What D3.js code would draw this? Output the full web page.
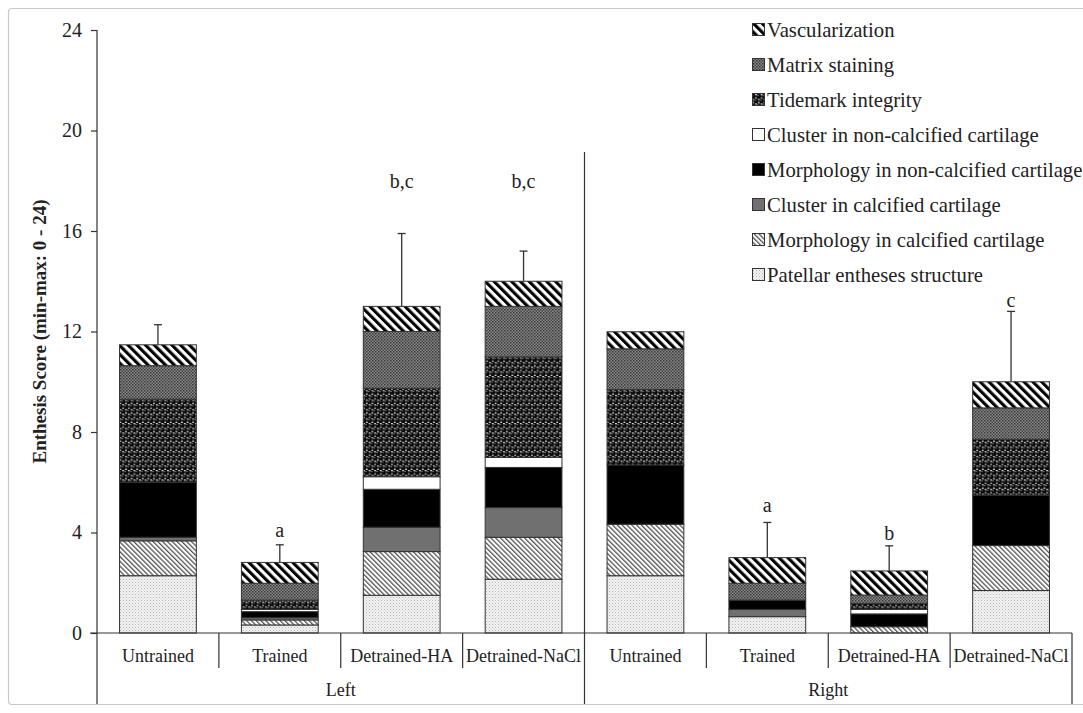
<!DOCTYPE html>
<html>
<head>
<meta charset="utf-8">
<script src="https://cdn.jsdelivr.net/npm/d3@7/dist/d3.min.js"></script>
<style>
  html, body { margin: 0; padding: 0; background: #fff; }
  svg { display: block; }
  text { font-family: "Liberation Serif", "Times New Roman", serif; fill: #222; }
</style>
</head>
<body>
<svg id="chart" width="1083" height="713"></svg>
<script>
// ---------------- data ----------------
const groups = ["Left", "Right"];
const categories = ["Untrained", "Trained", "Detrained-HA", "Detrained-NaCl"];
const yTicks = [0, 4, 8, 12, 16, 20, 24];
const seriesNames = [
  "Patellar entheses structure",
  "Morphology in calcified cartilage",
  "Cluster in calcified cartilage",
  "Morphology in non-calcified cartilage",
  "Cluster in non-calcified cartilage",
  "Tidemark integrity",
  "Matrix staining",
  "Vascularization"
];
// order of values: Left U, T, HA, NaCl, Right U, T, HA, NaCl
const patellar       = [2.28, 0.32, 1.50, 2.14, 2.28, 0.65, 0.00, 1.69];
const morphCalc      = [1.39, 0.20, 1.74, 1.67, 2.05, 0.00, 0.25, 1.79];
const clusterCalc    = [0.14, 0.09, 0.97, 1.18, 0.00, 0.29, 0.00, 0.00];
const morphNonCalc   = [2.19, 0.24, 1.51, 1.60, 2.36, 0.37, 0.51, 2.01];
const clusterNonCalc = [0.00, 0.09, 0.50, 0.40, 0.00, 0.00, 0.18, 0.00];
const tidemark       = [3.31, 0.37, 3.52, 4.00, 3.00, 0.00, 0.24, 2.22];
const matrix         = [1.33, 0.67, 2.26, 2.01, 1.62, 0.67, 0.33, 1.25];
const vascular       = [0.83, 0.83, 1.00, 1.00, 0.68, 1.02, 0.96, 1.04];
const errors         = [0.80, 0.70, 2.90, 1.20, 0.00, 1.40, 1.00, 2.80];
const sigLabels      = ["", "a", "b,c", "b,c", "", "a", "b", "c"];
const sigLabelValues = [null, 4.1, 18.0, 18.0, null, 5.1, 4.0, 13.25];

// ---------------- setup ----------------
const svg = d3.select("#chart");
const keys = [];
groups.forEach(g => categories.forEach(c => keys.push(g + "|" + c)));
const seriesArrays = [patellar, morphCalc, clusterCalc, morphNonCalc, clusterNonCalc, tidemark, matrix, vascular];
const rows = keys.map((k, i) => {
  const r = { key: k };
  seriesNames.forEach((s, j) => r[s] = seriesArrays[j][i]);
  return r;
});

const x = d3.scaleBand().domain(keys).range([97, 1072]).paddingInner(0.37).paddingOuter(0.185);
const y = d3.scaleLinear().domain([0, 24]).range([633, 30]);

// outer frame
svg.append("rect").attr("x", 8.5).attr("y", 8.5).attr("width", 1100).attr("height", 696)
  .attr("rx", 3).attr("fill", "none").attr("stroke", "#c9c9c9").attr("stroke-width", 1.2);

// ---------------- patterns ----------------
const defs = svg.append("defs");
// Patellar: light fine dots
let p = defs.append("pattern").attr("id", "pat0").attr("patternUnits", "userSpaceOnUse").attr("width", 3).attr("height", 3);
p.append("rect").attr("width", 3).attr("height", 3).attr("fill", "#f4f4f4");
p.append("rect").attr("x", 0).attr("y", 0).attr("width", 1).attr("height", 1).attr("fill", "#b4b4b4");
p.append("rect").attr("x", 1.5).attr("y", 1.5).attr("width", 1).attr("height", 1).attr("fill", "#c4c4c4");
// Morphology calcified: fine diagonal lines
p = defs.append("pattern").attr("id", "pat1").attr("patternUnits", "userSpaceOnUse").attr("width", 3.4).attr("height", 3.4)
  .attr("patternTransform", "rotate(-45)");
p.append("rect").attr("width", 3.4).attr("height", 3.4).attr("fill", "#fff");
p.append("rect").attr("x", 0).attr("y", 0).attr("width", 1.3).attr("height", 3.4).attr("fill", "#555");
// Cluster calcified: gray
p = defs.append("pattern").attr("id", "pat2").attr("patternUnits", "userSpaceOnUse").attr("width", 4).attr("height", 4);
p.append("rect").attr("width", 4).attr("height", 4).attr("fill", "#707070");
// Morph non-calc: black
p = defs.append("pattern").attr("id", "pat3").attr("patternUnits", "userSpaceOnUse").attr("width", 4).attr("height", 4);
p.append("rect").attr("width", 4).attr("height", 4).attr("fill", "#000");
// Cluster non-calc: white
p = defs.append("pattern").attr("id", "pat4").attr("patternUnits", "userSpaceOnUse").attr("width", 4).attr("height", 4);
p.append("rect").attr("width", 4).attr("height", 4).attr("fill", "#fff");
// Tidemark: spheres
p = defs.append("pattern").attr("id", "pat5").attr("patternUnits", "userSpaceOnUse").attr("width", 5.6).attr("height", 9.4);
p.append("rect").attr("width", 5.6).attr("height", 9.4).attr("fill", "#fff");
[[2.8, 2.35], [0, 7.05], [5.6, 7.05]].forEach(([cx, cy]) => {
  p.append("circle").attr("cx", cx).attr("cy", cy).attr("r", 2.7).attr("fill", "#0a0a0a");
  p.append("circle").attr("cx", cx - 0.9).attr("cy", cy - 0.9).attr("r", 0.6).attr("fill", "#cfcfcf");
});
// Matrix staining: dark checker
p = defs.append("pattern").attr("id", "pat6").attr("patternUnits", "userSpaceOnUse").attr("width", 3).attr("height", 3);
p.append("rect").attr("width", 3).attr("height", 3).attr("fill", "#8c8c8c");
p.append("rect").attr("x", 0).attr("y", 0).attr("width", 1.5).attr("height", 1.5).attr("fill", "#333");
p.append("rect").attr("x", 1.5).attr("y", 1.5).attr("width", 1.5).attr("height", 1.5).attr("fill", "#444");
// Vascularization: thick diagonal stripes
p = defs.append("pattern").attr("id", "pat7").attr("patternUnits", "userSpaceOnUse").attr("width", 6.2).attr("height", 6.2)
  .attr("patternTransform", "rotate(-45)");
p.append("rect").attr("width", 6.2).attr("height", 6.2).attr("fill", "#fff");
p.append("rect").attr("x", 0).attr("y", 0).attr("width", 3.1).attr("height", 6.2).attr("fill", "#000");

const fillOf = i => "url(#pat" + i + ")";

// ---------------- axes ----------------
const yAxis = svg.append("g").attr("transform", "translate(97,0)")
  .call(d3.axisLeft(y).tickValues(yTicks).tickSize(6).tickSizeOuter(0).tickPadding(9));
yAxis.select(".domain").remove();
yAxis.selectAll(".tick line").attr("stroke", "#333").attr("stroke-width", 1.2);
yAxis.selectAll(".tick text").attr("font-size", 20).attr("font-family", "Liberation Serif, serif").attr("fill", "#222");
svg.append("line").attr("x1", 97).attr("x2", 97).attr("y1", 30).attr("y2", 704)
  .attr("stroke", "#333").attr("stroke-width", 1.2);

// y title
svg.append("text")
  .attr("transform", "translate(46," + ((y(0) + y(24)) / 2) + ") rotate(-90)")
  .attr("text-anchor", "middle").attr("font-size", 19).attr("font-weight", "bold")
  .text("Enthesis Score (min-max: 0 - 24)");

// ---------------- bars ----------------
const stacked = d3.stack().keys(seriesNames)(rows);
const gBars = svg.append("g");
stacked.forEach((layer, si) => {
  gBars.selectAll(null).data(layer.filter(d => d[1] - d[0] > 0)).enter().append("rect")
    .attr("x", d => x(d.data.key))
    .attr("width", x.bandwidth())
    .attr("y", d => y(d[1]))
    .attr("height", d => y(d[0]) - y(d[1]))
    .attr("fill", fillOf(si))
    .attr("stroke", "#333").attr("stroke-width", 1);
});

// error bars and labels
keys.forEach((k, i) => {
  const total = seriesArrays.reduce((s, a) => s + a[i], 0);
  const cx = x(k) + x.bandwidth() / 2;
  if (errors[i] > 0) {
    svg.append("line").attr("x1", cx).attr("x2", cx).attr("y1", y(total)).attr("y2", y(total + errors[i]))
      .attr("stroke", "#333").attr("stroke-width", 1.3);
    svg.append("line").attr("x1", cx - 4).attr("x2", cx + 4).attr("y1", y(total + errors[i])).attr("y2", y(total + errors[i]))
      .attr("stroke", "#333").attr("stroke-width", 1.3);
  }
  if (sigLabels[i]) {
    svg.append("text").attr("x", cx).attr("y", y(sigLabelValues[i])).attr("dy", "0.35em")
      .attr("text-anchor", "middle").attr("font-size", 20).text(sigLabels[i]);
  }
});

// ---------------- x axis ----------------
svg.append("line").attr("x1", 90).attr("x2", 1072).attr("y1", 633).attr("y2", 633)
  .attr("stroke", "#333").attr("stroke-width", 1.2);
const step = x.step();
const x0 = x.range()[0];
keys.forEach((k, i) => {
  const cx = x(k) + x.bandwidth() / 2;
  svg.append("text").attr("x", cx).attr("y", 656).attr("dy", "0.35em")
    .attr("text-anchor", "middle").attr("font-size", 18).text(k.split("|")[1]);
  if (i > 0 && i % categories.length !== 0) {
    svg.append("line").attr("x1", x0 + i * step).attr("x2", x0 + i * step).attr("y1", 633).attr("y2", 668)
      .attr("stroke", "#333").attr("stroke-width", 1.2);
  }
});
groups.forEach((g, gi) => {
  const start = x0 + gi * categories.length * step;
  const end = start + categories.length * step;
  svg.append("text").attr("x", (start + end) / 2).attr("y", 690).attr("dy", "0.35em")
    .attr("text-anchor", "middle").attr("font-size", 18).text(g);
  svg.append("line").attr("x1", end).attr("x2", end).attr("y1", gi === 0 ? 152 : 633).attr("y2", 704)
    .attr("stroke", "#333").attr("stroke-width", 1.2);
});

// ---------------- legend ----------------
const legend = svg.append("g");
const legendOrder = seriesNames.map((s, i) => i).reverse();
legendOrder.forEach((si, li) => {
  const ly = 30 + li * 35;
  legend.append("rect").attr("x", 752.5).attr("y", ly - 6.5).attr("width", 12).attr("height", 12)
    .attr("fill", fillOf(si)).attr("stroke", "#333").attr("stroke-width", 1);
  legend.append("text").attr("x", 767).attr("y", ly).attr("dy", "0.35em")
    .attr("font-size", 20.7).text(seriesNames[si]);
});
</script>
</body>
</html>
